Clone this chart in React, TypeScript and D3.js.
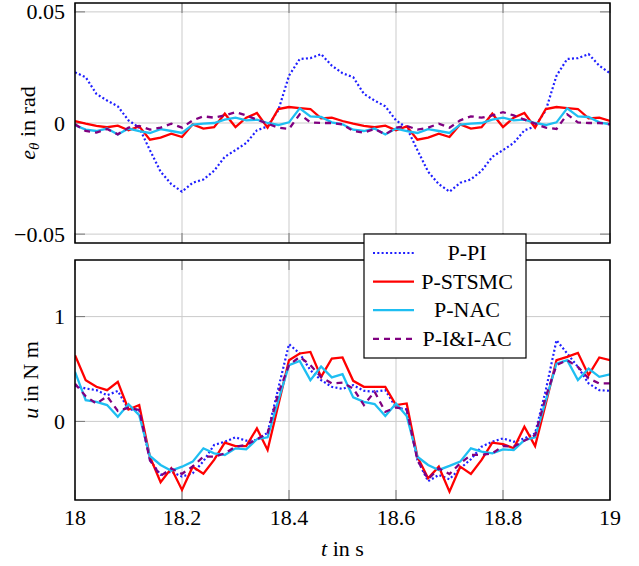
import React from "react";
import * as d3 from "d3";

const T = [18.00, 18.02, 18.04, 18.06, 18.08, 18.10, 18.12, 18.14, 18.16, 18.18, 18.20, 18.22, 18.24, 18.26, 18.28, 18.30, 18.32, 18.34, 18.36, 18.38, 18.40, 18.42, 18.44, 18.46, 18.48, 18.50,
  18.52, 18.54, 18.56, 18.58, 18.60, 18.62, 18.64, 18.66, 18.68, 18.70, 18.72, 18.74, 18.76, 18.78, 18.80, 18.82, 18.84, 18.86, 18.88, 18.90, 18.92, 18.94, 18.96, 18.98, 19.00];

// tracking error e_theta (rad)
const ePI = [0.0228, 0.0206, 0.0131, 0.0101, 0.0075, 0.0012, -0.0021, -0.0122, -0.0219, -0.0275, -0.0309, -0.0269, -0.0254, -0.0215, -0.0152, -0.0122, -0.009, -0.0033, -0.0015, 0.0057, 0.0213, 0.0288, 0.0292, 0.031, 0.0258, 0.0224,
  0.0206, 0.0131, 0.0101, 0.0075, 0.0012, -0.0021, -0.0122, -0.0219, -0.0275, -0.0309, -0.0269, -0.0254, -0.0215, -0.0152, -0.0122, -0.009, -0.0033, -0.0015, 0.0057, 0.0213, 0.0288, 0.0292, 0.031, 0.0258, 0.0224];
const eSTSMC = [0.0009, -0.0003, -0.0013, -0.0019, -0.0012, -0.0033, -0.0015, -0.0075, -0.0066, -0.0048, -0.0063, -0.0006, -0.0025, -0.0019, 0.0042, -0.0018, 0.0024, 0.0045, -0.0021, 0.0063, 0.0072, 0.0067, 0.0063, 0.0021, 0.0024, 0.0009,
  -0.0003, -0.0013, -0.0019, -0.0012, -0.0033, -0.0015, -0.0075, -0.0066, -0.0048, -0.0063, -0.0006, -0.0025, -0.0019, 0.0042, -0.0018, 0.0024, 0.0045, -0.0021, 0.0063, 0.0072, 0.0067, 0.0063, 0.0021, 0.0024, 0.0009];
const eNAC = [-0.001, -0.003, -0.0036, -0.0025, -0.0052, -0.0025, -0.0037, -0.0045, -0.0028, -0.0036, -0.0045, -0.0007, -0.0003, 0.0, 0.0015, 0.0024, 0.0012, 0.0015, 0.0, -0.0009, 0.0003, 0.0066, 0.003, 0.0027, 0.0003, -0.0006,
  -0.003, -0.0036, -0.0025, -0.0052, -0.0025, -0.0037, -0.0045, -0.0028, -0.0036, -0.0045, -0.0007, -0.0003, 0.0, 0.0015, 0.0024, 0.0012, 0.0015, 0.0, -0.0009, 0.0003, 0.0066, 0.003, 0.0027, 0.0003, -0.0006];
const eIIAC = [-0.0006, -0.0036, -0.0043, -0.0027, -0.0051, -0.0021, -0.0013, -0.003, -0.0021, -0.0003, -0.0021, 0.0012, 0.003, 0.0024, 0.0034, 0.0049, 0.0034, 0.0015, -0.0003, -0.0021, -0.0027, 0.0039, 0.0003, 0.0, 0.0, -0.0006,
  -0.0036, -0.0043, -0.0027, -0.0051, -0.0021, -0.0013, -0.003, -0.0021, -0.0003, -0.0021, 0.0012, 0.003, 0.0024, 0.0034, 0.0049, 0.0034, 0.0015, -0.0003, -0.0021, -0.0027, 0.0039, 0.0003, 0.0, 0.0, -0.0006];

// control input u (N m)
const uPI = [0.34, 0.314, 0.298, 0.25, 0.29, 0.114, 0.108, -0.368, -0.51, -0.48, -0.527, -0.495, -0.38, -0.225, -0.194, -0.152, -0.184, -0.178, -0.108, 0.314, 0.737, 0.648, 0.489, 0.394, 0.33, 0.31,
  0.346, 0.292, 0.283, 0.298, 0.133, 0.114, -0.368, -0.571, -0.511, -0.552, -0.448, -0.362, -0.241, -0.194, -0.162, -0.194, -0.162, -0.114, 0.298, 0.775, 0.648, 0.52, 0.362, 0.298, 0.292];
const uSTSMC = [0.632, 0.394, 0.33, 0.298, 0.378, 0.114, 0.156, -0.337, -0.581, -0.448, -0.654, -0.432, -0.5, -0.368, -0.203, -0.235, -0.235, -0.067, -0.273, 0.156, 0.584, 0.648, 0.663, 0.425, 0.6, 0.61,
  0.387, 0.33, 0.33, 0.33, 0.156, 0.171, -0.337, -0.543, -0.432, -0.67, -0.432, -0.502, -0.368, -0.203, -0.216, -0.257, -0.051, -0.235, 0.171, 0.584, 0.616, 0.654, 0.441, 0.61, 0.584];
const uNAC = [0.473, 0.203, 0.187, 0.156, 0.044, 0.165, 0.06, -0.33, -0.416, -0.47, -0.432, -0.384, -0.257, -0.305, -0.32, -0.257, -0.267, -0.17, -0.152, 0.2, 0.537, 0.578, 0.394, 0.524, 0.42, 0.45,
  0.229, 0.187, 0.165, 0.051, 0.171, 0.051, -0.337, -0.416, -0.463, -0.425, -0.384, -0.257, -0.289, -0.305, -0.267, -0.273, -0.178, -0.152, 0.2, 0.552, 0.584, 0.394, 0.505, 0.425, 0.448];
const uIIAC = [0.36, 0.24, 0.17, 0.24, 0.1, 0.13, 0.11, -0.37, -0.52, -0.45, -0.5, -0.43, -0.337, -0.337, -0.305, -0.241, -0.225, -0.17, -0.114, 0.267, 0.537, 0.616, 0.537, 0.425, 0.362, 0.37,
  0.314, 0.156, 0.283, 0.092, 0.133, 0.114, -0.368, -0.552, -0.448, -0.502, -0.4, -0.32, -0.32, -0.305, -0.235, -0.241, -0.184, -0.13, 0.235, 0.537, 0.584, 0.52, 0.41, 0.362, 0.362];

const seriesNames = ["P-PI", "P-STSMC", "P-NAC", "P-I&I-AC"];
const xTicks = [18, 18.2, 18.4, 18.6, 18.8, 19];
const xTickLabels = ["18", "18.2", "18.4", "18.6", "18.8", "19"];
const eTicks = [-0.05, 0, 0.05];
const eTickLabels = ["\u22120.05", "0", "0.05"];
const uTicks = [0, 1];
const uTickLabels = ["0", "1"];

const styles = [
  { color: "#1f1fff", width: 2.2, dash: "2,2.3" },
  { color: "#ff0000", width: 2.3, dash: "" },
  { color: "#1ebef2", width: 2.3, dash: "" },
  { color: "#800080", width: 2.3, dash: "6,5" },
];

const L = 75, R = 610;
const txt = { fontFamily: '"Liberation Serif"' };

export default function App() {
  const x = d3.scaleLinear().domain([18, 19]).range([L, R]);
  const yTop = d3.scaleLinear().domain([-0.054, 0.054]).range([243, 3]);
  const yBot = d3.scaleLinear().domain([-0.75, 1.54]).range([500, 260]);

  const panels = [
    { y: yTop, data: [ePI, eSTSMC, eNAC, eIIAC], ticks: eTicks, labels: eTickLabels, top: 3, bottom: 243, showX: false },
    { y: yBot, data: [uPI, uSTSMC, uNAC, uIIAC], ticks: uTicks, labels: uTickLabels, top: 260, bottom: 500, showX: true },
  ];

  const legendX = 364, legendY = 234, legendW = 162, legendH = 124;

  return (
    <svg width={639} height={566} style={{ position: "absolute", left: 0, top: 0, background: "#fff" }}>
      <rect x={0} y={0} width={639} height={566} fill="#fff" />
      {panels.map((p, pi) => {
        const line = d3.line<number>().x((_, i) => x(T[i])).y((d) => p.y(d));
        return (
          <g key={pi}>
            <defs>
              <clipPath id={`clip${pi}`}>
                <rect x={L} y={p.top} width={R - L} height={p.bottom - p.top} />
              </clipPath>
            </defs>
            {xTicks.map((t, i) => (
              <line key={"gx" + i} x1={x(t)} x2={x(t)} y1={p.top} y2={p.bottom} stroke="#cbcbcb" strokeWidth={1} />
            ))}
            {p.ticks.map((t, i) => (
              <line key={"gy" + i} x1={L} x2={R} y1={p.y(t)} y2={p.y(t)} stroke="#cbcbcb" strokeWidth={1} />
            ))}
            {xTicks.map((t, i) => (
              <g key={"tx" + i}>
                <line x1={x(t)} x2={x(t)} y1={p.bottom} y2={p.bottom - 10} stroke="#777" strokeWidth={1} />
                <line x1={x(t)} x2={x(t)} y1={p.top} y2={p.top + 10} stroke="#777" strokeWidth={1} />
              </g>
            ))}
            {p.ticks.map((t, i) => (
              <g key={"ty" + i}>
                <line x1={L} x2={L + 10} y1={p.y(t)} y2={p.y(t)} stroke="#777" strokeWidth={1} />
                <line x1={R} x2={R - 10} y1={p.y(t)} y2={p.y(t)} stroke="#777" strokeWidth={1} />
                <text x={65} y={p.y(t) + 7.5} textAnchor="end" fontSize={22} fill="#000" style={txt}>{p.labels[i]}</text>
              </g>
            ))}
            <g clipPath={`url(#clip${pi})`}>
              {p.data.map((d, si) => (
                <path key={si} d={line(d) || ""} fill="none" stroke={styles[si].color} strokeWidth={styles[si].width}
                  strokeDasharray={styles[si].dash || undefined} strokeLinejoin="miter" />
              ))}
            </g>
            <rect x={L} y={p.top} width={R - L} height={p.bottom - p.top} fill="none" stroke="#000" strokeWidth={1.5} />
            {p.showX && xTicks.map((t, i) => (
              <text key={"xl" + i} x={x(t)} y={525} textAnchor="middle" fontSize={22} fill="#000" style={txt}>{xTickLabels[i]}</text>
            ))}
          </g>
        );
      })}
      <text x={(L + R) / 2} y={556} textAnchor="middle" fontSize={22} fill="#000" style={txt}>
        <tspan fontStyle="italic">t</tspan> in s
      </text>
      <text transform={`translate(35,123) rotate(-90)`} textAnchor="middle" fontSize={22} fill="#000" style={txt}>
        <tspan fontStyle="italic">e</tspan>
        <tspan fontStyle="italic" fontSize={15} dy={4}>θ</tspan>
        <tspan dy={-4}> in rad</tspan>
      </text>
      <text transform={`translate(38,380) rotate(-90)`} textAnchor="middle" fontSize={22} fill="#000" style={txt}>
        <tspan fontStyle="italic">u</tspan> in N m
      </text>
      <rect x={legendX} y={legendY} width={legendW} height={legendH} fill="#fff" stroke="#000" strokeWidth={1.2} />
      {seriesNames.map((n, i) => {
        const ly = 253 + i * 28.6;
        return (
          <g key={n}>
            <line x1={373} x2={414} y1={ly} y2={ly} stroke={styles[i].color} strokeWidth={styles[i].width}
              strokeDasharray={styles[i].dash || undefined} />
            <text x={467} y={ly + 7} textAnchor="middle" fontSize={22} fill="#000" style={txt}>{n}</text>
          </g>
        );
      })}
    </svg>
  );
}
